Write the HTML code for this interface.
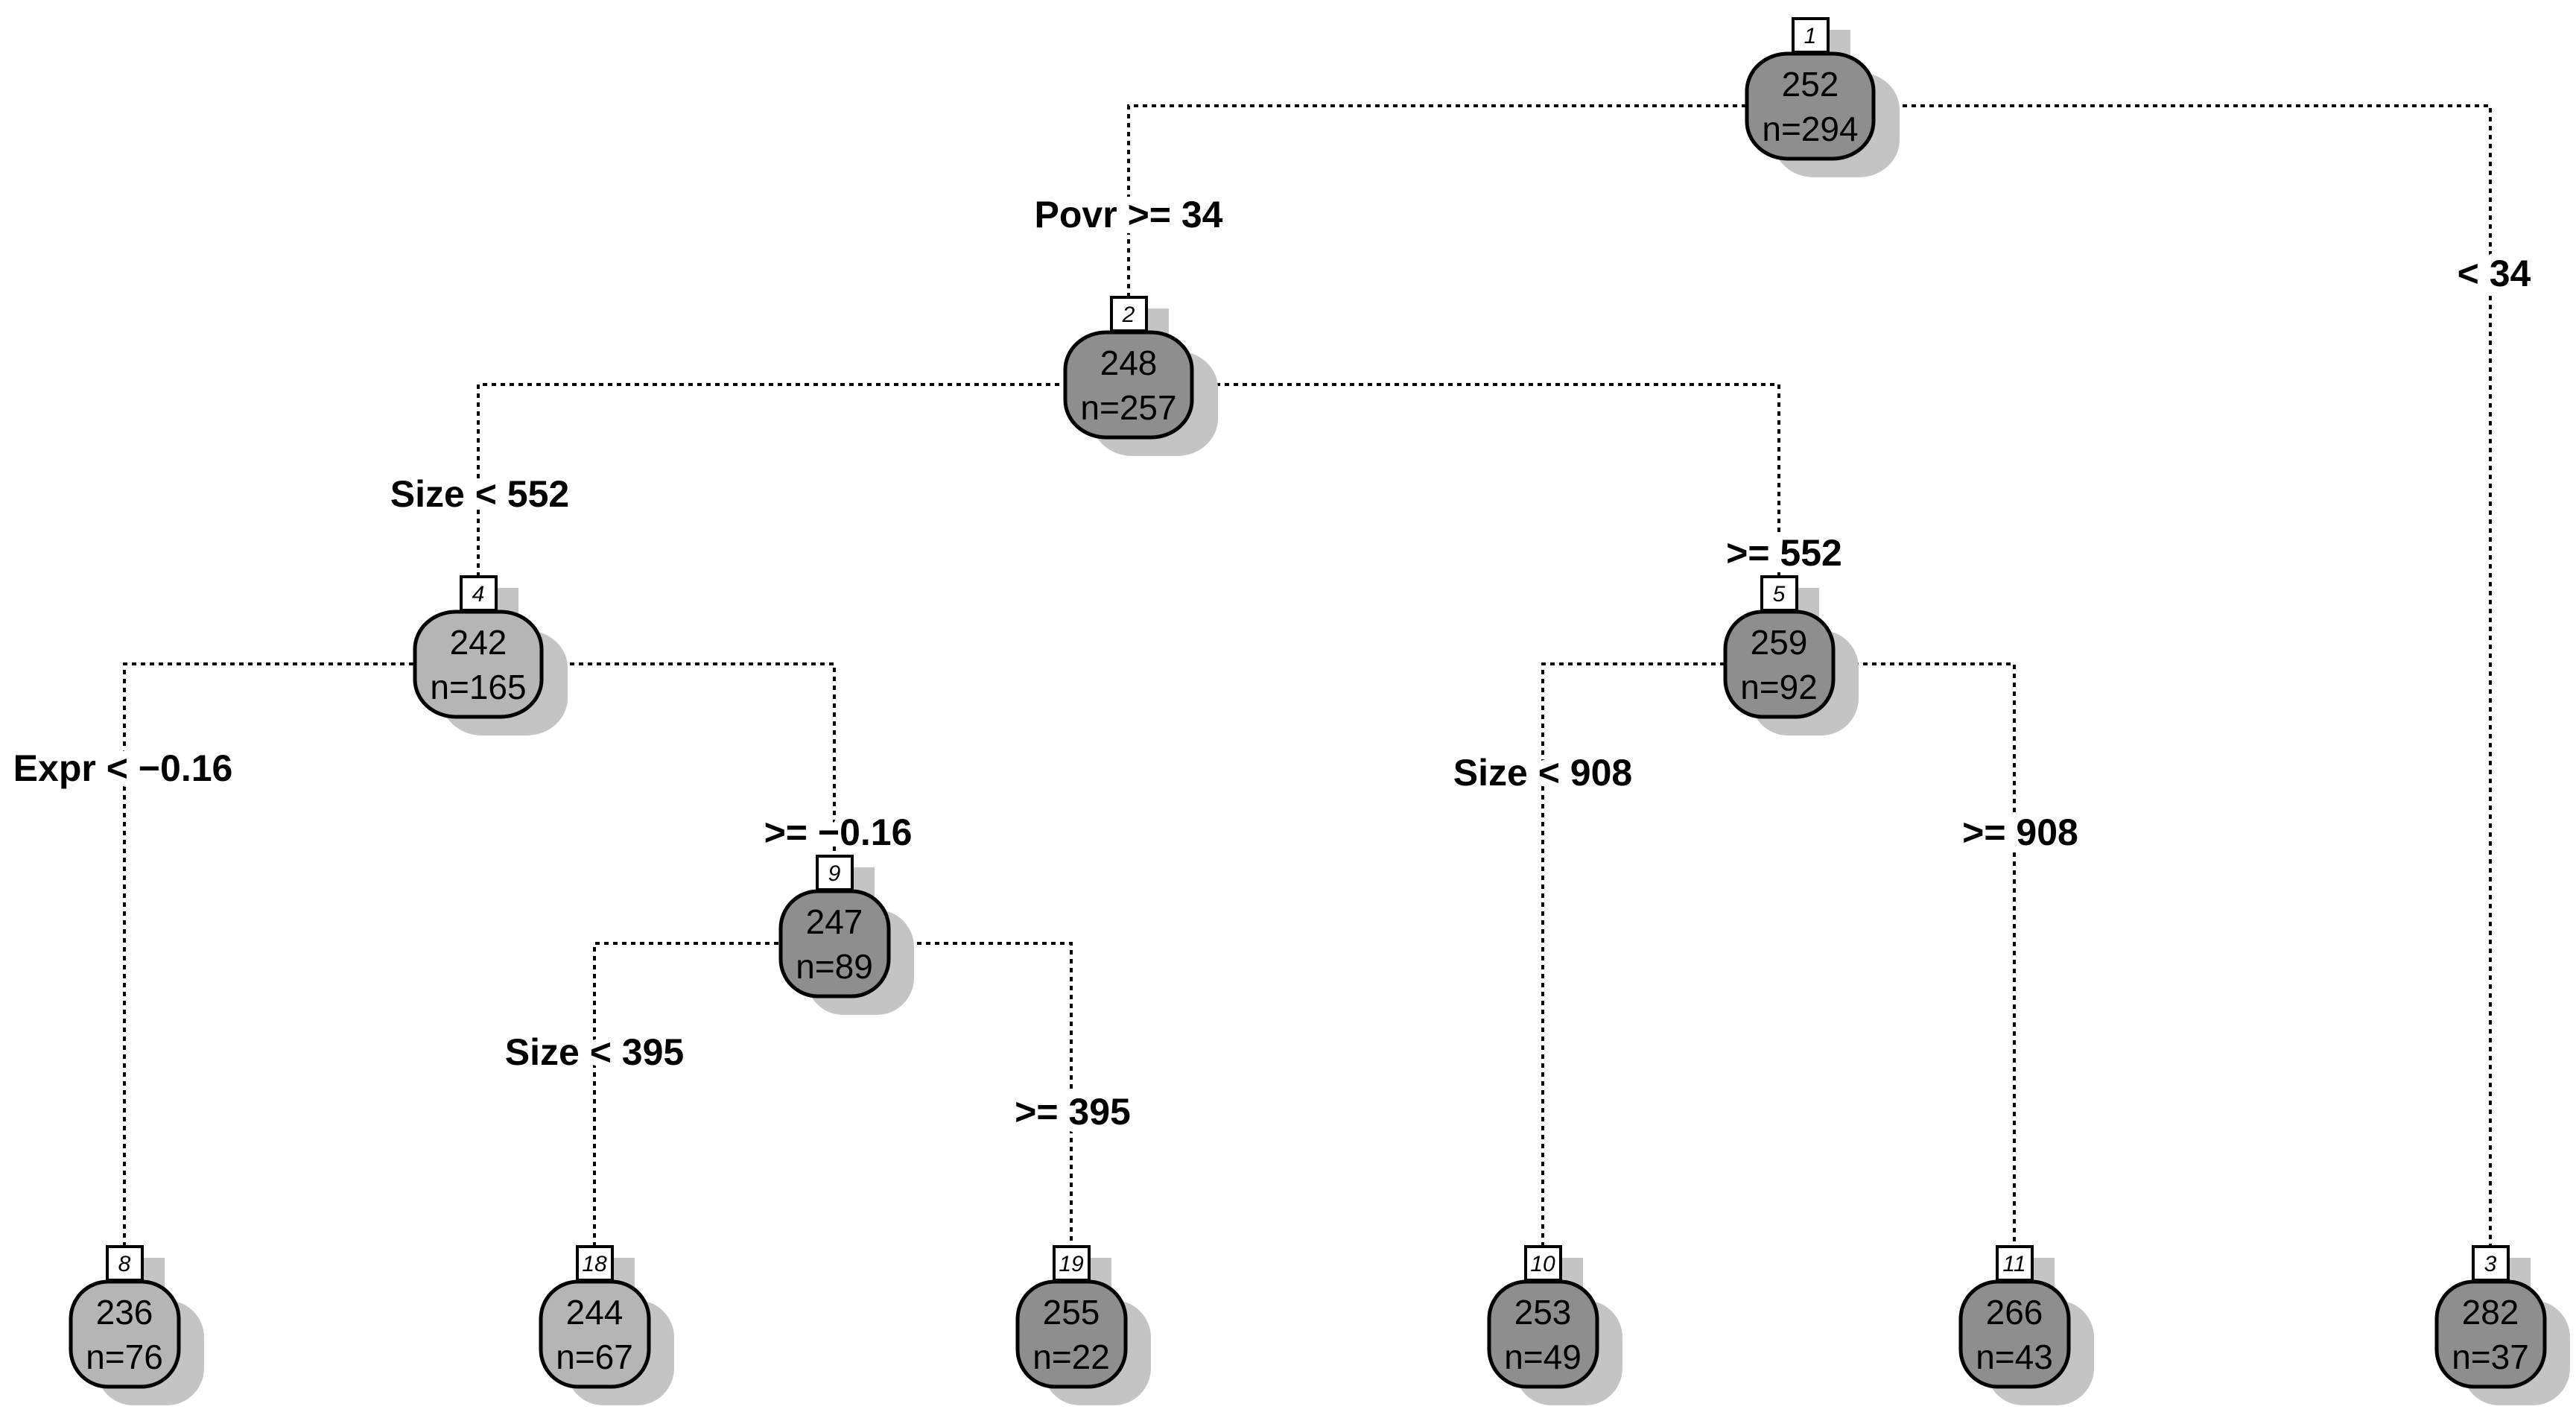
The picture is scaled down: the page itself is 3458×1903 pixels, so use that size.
<!DOCTYPE html>
<html><head><meta charset="utf-8"><style>
html,body{margin:0;padding:0;background:#fff}
svg{display:block}
.e{stroke:#000;stroke-width:4;stroke-dasharray:6 6;fill:none}
.lb{font-family:"Liberation Sans",sans-serif;font-weight:bold;font-size:50px;text-anchor:middle;fill:#000;stroke:#fff;stroke-width:22;paint-order:stroke;stroke-linejoin:round}
.nt{font-family:"Liberation Sans",sans-serif;font-size:46px;text-anchor:middle;fill:#000}
.bx{font-family:"Liberation Sans",sans-serif;font-style:italic;font-size:30px;text-anchor:middle;fill:#000}
.sh{fill:#c4c4c4}
.dk{fill:#8e8e8e;stroke:#000;stroke-width:5}
.lt{fill:#b5b5b5;stroke:#000;stroke-width:5}
.b{fill:#fff;stroke:#000;stroke-width:4}
</style></head><body>
<svg width="3458" height="1903" viewBox="0 0 3458 1903" xmlns="http://www.w3.org/2000/svg">
<!-- edges -->
<path class="e" d="M1515 399V142H3343V1673"/>
<path class="e" d="M642 774V516H2388V774"/>
<path class="e" d="M167 1673V891H1120V1149"/>
<path class="e" d="M2071 1673V891H2704V1673"/>
<path class="e" d="M798 1673V1266H1438V1673"/>
<!-- labels -->
<text class="lb" x="1515" y="305">Povr &gt;= 34</text>
<text class="lb" x="3348" y="384">&lt; 34</text>
<text class="lb" x="644" y="680">Size &lt; 552</text>
<text class="lb" x="2395" y="759">&gt;= 552</text>
<text class="lb" x="165" y="1048">Expr &lt; −0.16</text>
<text class="lb" x="1125" y="1134">&gt;= −0.16</text>
<text class="lb" x="2071" y="1054">Size &lt; 908</text>
<text class="lb" x="2712" y="1134">&gt;= 908</text>
<text class="lb" x="798" y="1429">Size &lt; 395</text>
<text class="lb" x="1440" y="1509">&gt;= 395</text>

<!-- node template: shadow, box shadow, ellipse, box, texts -->
<g>
<rect class="sh" x="2380" y="97" width="170" height="141" rx="55" ry="50"/>
<rect class="sh" x="2437" y="40" width="47" height="50"/>
<rect class="dk" x="2345" y="72" width="170" height="141" rx="55" ry="50"/>
<rect class="b" x="2407" y="25" width="47" height="45"/>
<text class="bx" x="2430" y="58">1</text>
<text class="nt" x="2430" y="129">252</text>
<text class="nt" x="2430" y="189">n=294</text>
</g>
<g>
<rect class="sh" x="1465" y="471" width="170" height="141" rx="55" ry="50"/>
<rect class="sh" x="1522" y="414" width="47" height="50"/>
<rect class="dk" x="1430" y="446" width="170" height="141" rx="55" ry="50"/>
<rect class="b" x="1492" y="399" width="47" height="45"/>
<text class="bx" x="1515" y="432">2</text>
<text class="nt" x="1515" y="503">248</text>
<text class="nt" x="1515" y="563">n=257</text>
</g>
<g>
<rect class="sh" x="592" y="846" width="170" height="141" rx="55" ry="50"/>
<rect class="sh" x="649" y="789" width="47" height="50"/>
<rect class="lt" x="557" y="821" width="170" height="141" rx="55" ry="50"/>
<rect class="b" x="619" y="774" width="47" height="45"/>
<text class="bx" x="642" y="807">4</text>
<text class="nt" x="642" y="878">242</text>
<text class="nt" x="642" y="938">n=165</text>
</g>
<g>
<rect class="sh" x="2350" y="846" width="145" height="141" rx="50" ry="50"/>
<rect class="sh" x="2395" y="789" width="47" height="50"/>
<rect class="dk" x="2316" y="821" width="145" height="141" rx="50" ry="50"/>
<rect class="b" x="2365" y="774" width="47" height="45"/>
<text class="bx" x="2388" y="807">5</text>
<text class="nt" x="2388" y="878">259</text>
<text class="nt" x="2388" y="938">n=92</text>
</g>
<g>
<rect class="sh" x="1082" y="1221" width="145" height="141" rx="50" ry="50"/>
<rect class="sh" x="1127" y="1164" width="47" height="50"/>
<rect class="dk" x="1048" y="1196" width="145" height="141" rx="50" ry="50"/>
<rect class="b" x="1097" y="1149" width="47" height="45"/>
<text class="bx" x="1120" y="1182">9</text>
<text class="nt" x="1120" y="1253">247</text>
<text class="nt" x="1120" y="1313">n=89</text>
</g>
<!-- leaves -->
<g>
<rect class="sh" x="129" y="1745" width="145" height="141" rx="50" ry="50"/>
<rect class="sh" x="174" y="1688" width="47" height="50"/>
<rect class="lt" x="95" y="1720" width="145" height="141" rx="50" ry="50"/>
<rect class="b" x="144" y="1673" width="47" height="45"/>
<text class="bx" x="167" y="1706">8</text>
<text class="nt" x="167" y="1777">236</text>
<text class="nt" x="167" y="1837">n=76</text>
</g>
<g>
<rect class="sh" x="760" y="1745" width="145" height="141" rx="50" ry="50"/>
<rect class="sh" x="805" y="1688" width="47" height="50"/>
<rect class="lt" x="726" y="1720" width="145" height="141" rx="50" ry="50"/>
<rect class="b" x="775" y="1673" width="47" height="45"/>
<text class="bx" x="798" y="1706">18</text>
<text class="nt" x="798" y="1777">244</text>
<text class="nt" x="798" y="1837">n=67</text>
</g>
<g>
<rect class="sh" x="1400" y="1745" width="145" height="141" rx="50" ry="50"/>
<rect class="sh" x="1445" y="1688" width="47" height="50"/>
<rect class="dk" x="1366" y="1720" width="145" height="141" rx="50" ry="50"/>
<rect class="b" x="1415" y="1673" width="47" height="45"/>
<text class="bx" x="1438" y="1706">19</text>
<text class="nt" x="1438" y="1777">255</text>
<text class="nt" x="1438" y="1837">n=22</text>
</g>
<g>
<rect class="sh" x="2033" y="1745" width="145" height="141" rx="50" ry="50"/>
<rect class="sh" x="2078" y="1688" width="47" height="50"/>
<rect class="dk" x="1999" y="1720" width="145" height="141" rx="50" ry="50"/>
<rect class="b" x="2048" y="1673" width="47" height="45"/>
<text class="bx" x="2071" y="1706">10</text>
<text class="nt" x="2071" y="1777">253</text>
<text class="nt" x="2071" y="1837">n=49</text>
</g>
<g>
<rect class="sh" x="2666" y="1745" width="145" height="141" rx="50" ry="50"/>
<rect class="sh" x="2711" y="1688" width="47" height="50"/>
<rect class="dk" x="2632" y="1720" width="145" height="141" rx="50" ry="50"/>
<rect class="b" x="2681" y="1673" width="47" height="45"/>
<text class="bx" x="2704" y="1706">11</text>
<text class="nt" x="2704" y="1777">266</text>
<text class="nt" x="2704" y="1837">n=43</text>
</g>
<g>
<rect class="sh" x="3305" y="1745" width="145" height="141" rx="50" ry="50"/>
<rect class="sh" x="3350" y="1688" width="47" height="50"/>
<rect class="dk" x="3271" y="1720" width="145" height="141" rx="50" ry="50"/>
<rect class="b" x="3320" y="1673" width="47" height="45"/>
<text class="bx" x="3343" y="1706">3</text>
<text class="nt" x="3343" y="1777">282</text>
<text class="nt" x="3343" y="1837">n=37</text>
</g>
</svg>
</body></html>
